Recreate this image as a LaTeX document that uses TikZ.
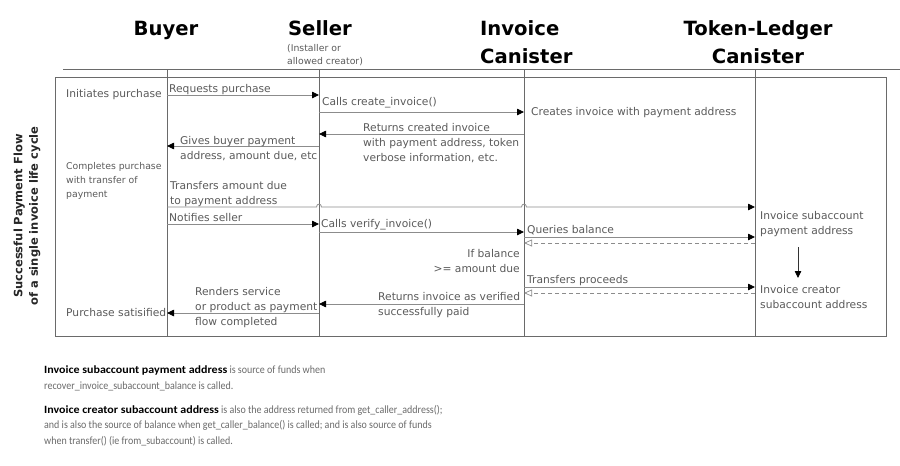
\documentclass[tikz,border=0pt]{standalone}
\usepackage{fontspec}
\setmainfont{DejaVu Sans}
\newfontfamily\footfont{Carlito}[FakeStretch=0.9]
\newfontfamily\footboldfont{Carlito}[FakeStretch=1.08]
\usetikzlibrary{arrows.meta}
\definecolor{linegray}{HTML}{8C8C8C}
\definecolor{lanegray}{HTML}{6A6A6A}
\definecolor{txtgray}{HTML}{5A5A5A}
\definecolor{foottxt}{HTML}{6A6A6A}
\newcommand{\footbold}[1]{{\footboldfont\bfseries\color{black}#1}}
\begin{document}
\begin{tikzpicture}[x=1pt,y=-1pt,
  hdr/.style={font=\fontsize{19.6}{28}\selectfont\bfseries, text=black, inner sep=0pt},
  msg/.style={font=\fontsize{10.7}{15}\selectfont, text=txtgray, inner sep=0pt, align=left, anchor=west},
  msgr/.style={font=\fontsize{10.7}{15.5}\selectfont, text=txtgray, inner sep=0pt, align=right, anchor=east},
  smalltxt/.style={font=\fontsize{9.3}{13.5}\selectfont, text=txtgray, inner sep=0pt, align=left, anchor=west},
  foot/.style={font=\footfont\fontsize{11.1}{15.5}\selectfont, text=foottxt, inner sep=0pt, align=left, anchor=base west},
  lane/.style={draw=lanegray, line width=0.9pt},
  frame/.style={draw=lanegray, line width=0.8pt},
  call/.style={draw=linegray, line width=0.8pt, -{Triangle[length=7pt,width=6.5pt,color=black]}},
  reply/.style={draw=linegray, line width=0.7pt, dash pattern=on 4pt off 3pt, -{Triangle[open,length=8pt,width=7pt,color=linegray]}},
]
\useasboundingbox (0,0) rectangle (900,466);

% frame and header line
\coordinate (hl) at (63,69); \coordinate (hr) at (900,69);
\draw[frame] (hl) -- (hr);
\coordinate (fa) at (55,77); \coordinate (fb) at (886,336);
\draw[frame] (fa) rectangle (fb);

% lifelines
\coordinate (Bt) at (167,69); \coordinate (Bb) at (167,336);
\coordinate (St) at (319,69); \coordinate (Sb) at (319,336);
\coordinate (It) at (524,69); \coordinate (Ib) at (524,336);
\coordinate (Tt) at (755,69); \coordinate (Tb) at (755,336);
\draw[lane] (Bt) -- (Bb);
\draw[lane] (St) -- (Sb);
\draw[lane] (It) -- (Ib);
\draw[lane] (Tt) -- (Tb);

% headers
\node[hdr, anchor=base] (hbuyer) at (166,35) {Buyer};
\node[hdr, anchor=base] (hseller) at (320,35) {Seller};
\node[smalltxt, anchor=north west, font=\fontsize{9.3}{13}\selectfont] (hsub) at (287,44.5) {(Installer or\\allowed creator)};
\node[hdr, anchor=base west, align=left] (hinv) at (480,63) {Invoice\\Canister};
\node[hdr, anchor=base, align=center] (htok) at (758,63) {Token-Ledger\\Canister};

% side label
\node[rotate=90, font=\fontsize{11.5}{15.5}\selectfont\bfseries, text=black!85, align=center, inner sep=0pt] (side) at (27,216) {Successful Payment Flow\\of a single invoice life cycle};

% buyer lane texts
\node[msg] (buy1) at (66,95) {Initiates purchase};
\node[smalltxt, font=\fontsize{9.3}{14}\selectfont] (buy2) at (66,181) {Completes purchase\\with transfer of\\payment};
\node[msg] (buy3) at (66,313) {Purchase satisified};

% 1 requests purchase
\coordinate (m1s) at (167,95); \coordinate (m1e) at (319,95);
\draw[call] (m1s) -- (m1e);
\node[msg] (t1) at (169,89.5) {Requests purchase};

% 2 create invoice
\coordinate (m2s) at (319,112); \coordinate (m2e) at (524,112);
\draw[call] (m2s) -- (m2e);
\node[msg] (t2) at (322,103) {Calls create\_invoice()};
\node[msg] (t3) at (531,113) {Creates invoice with payment address};

% 3 returns created invoice
\coordinate (m3s) at (524,134); \coordinate (m3e) at (319,134);
\draw[call] (m3s) -- (m3e);
\node[msg] (t4) at (363,143) {Returns created invoice\\with payment address, token\\verbose information, etc.};

% 4 gives buyer payment
\coordinate (m4s) at (319,146); \coordinate (m4e) at (167,146);
\draw[call] (m4s) -- (m4e);
\node[msg] (t5) at (180,148.5) {Gives buyer payment\\address, amount due, etc};

% 5 transfers amount due (with hops)
\coordinate (m5s) at (167,207); \coordinate (m5e) at (755,207);
\coordinate (h1a) at (316.5,207); \coordinate (h1b) at (321.5,207);
\coordinate (h2a) at (521.5,207); \coordinate (h2b) at (526.5,207);
\draw[call] (m5s) -- (h1a) .. controls (316.5,203.2) and (321.5,203.2) .. (h1b)
  -- (h2a) .. controls (521.5,203.2) and (526.5,203.2) .. (h2b) -- (m5e);
\node[msg] (t6) at (170,194) {Transfers amount due\\to payment address};

% 6 notifies seller
\coordinate (m6s) at (167,224); \coordinate (m6e) at (319,224);
\draw[call] (m6s) -- (m6e);
\node[msg] (t7) at (169,218) {Notifies seller};

% 7 verify invoice
\coordinate (m7s) at (319,232); \coordinate (m7e) at (524,232);
\draw[call] (m7s) -- (m7e);
\node[msg] (t8) at (321,224.5) {Calls verify\_invoice()};

% 8 queries balance
\coordinate (m8s) at (524,237); \coordinate (m8e) at (755,237);
\draw[call] (m8s) -- (m8e);
\node[msg] (t9) at (527,230) {Queries balance};
\coordinate (r8s) at (755,243); \coordinate (r8e) at (524,243);
\draw[reply] (r8s) -- (r8e);

\node[msgr] (t10) at (520,261) {If balance\\>= amount due};

% 9 transfers proceeds
\coordinate (m9s) at (524,287); \coordinate (m9e) at (755,287);
\draw[call] (m9s) -- (m9e);
\node[msg] (t11) at (527,281) {Transfers proceeds};
\coordinate (r9s) at (755,293); \coordinate (r9e) at (524,293);
\draw[reply] (r9s) -- (r9e);

% 10 returns invoice verified
\coordinate (m10s) at (524,304); \coordinate (m10e) at (319,304);
\draw[call] (m10s) -- (m10e);
\node[msg] (t12) at (378,305.5) {Returns invoice as verified\\successfully paid};

% 11 renders service
\coordinate (m11s) at (319,313); \coordinate (m11e) at (167,313);
\draw[call] (m11s) -- (m11e);
\node[msg] (t13) at (195,307.5) {Renders service\\or product as payment\\flow completed};

% token ledger notes
\node[msg] (k1) at (760,224.5) {Invoice subaccount\\payment address};
\node[msg] (k2) at (760,297.5) {Invoice creator\\subaccount address};
\coordinate (ka) at (798,247); \coordinate (kb) at (798,278);
\draw[draw=black!80, line width=0.8pt, -{Triangle[length=7pt,width=6.5pt,color=black]}] (ka) -- (kb);

% footer
\node[foot] (f1) at (44,389) {\footbold{Invoice subaccount payment address} is source of funds when\\recover\_invoice\_subaccount\_balance is called.};
\node[foot] (f2) at (44,444) {\footbold{Invoice creator subaccount address} is also the address returned from get\_caller\_address();\\and is also the source of balance when get\_caller\_balance() is called; and is also source of funds\\when transfer() (ie from\_subaccount) is called.};
\end{tikzpicture}
\end{document}
